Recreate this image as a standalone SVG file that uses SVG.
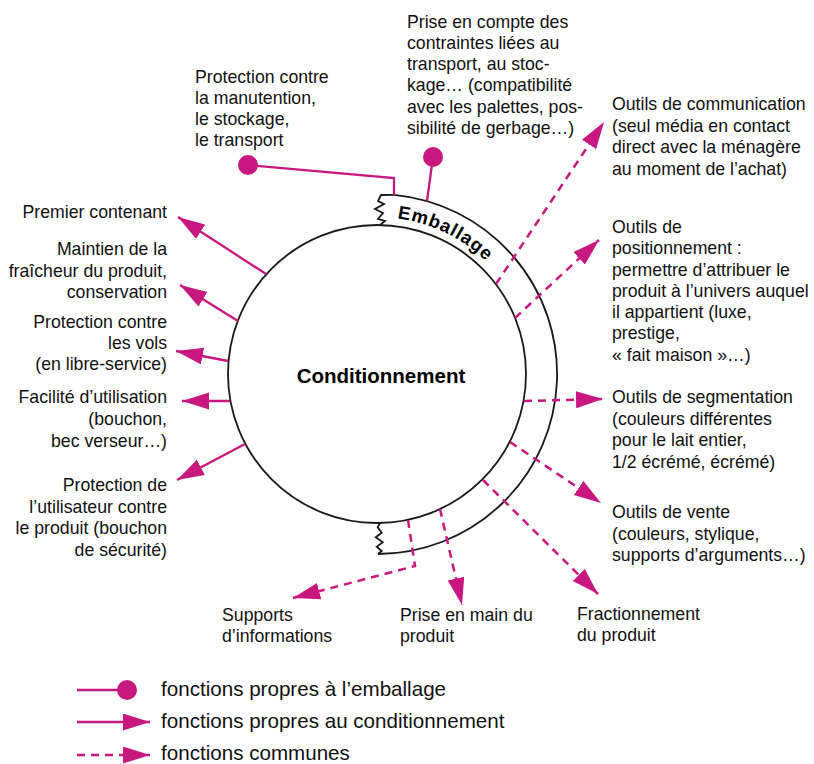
<svg xmlns="http://www.w3.org/2000/svg" width="814" height="764" viewBox="0 0 814 764">
<defs>
<style>
.t{font-family:"Liberation Sans",Arial,sans-serif;font-size:17.7px;fill:#111}
.lg{font-family:"Liberation Sans",Arial,sans-serif;font-size:20.6px;fill:#111}
.b{font-family:"Liberation Sans",Arial,sans-serif;font-weight:bold;fill:#000}
.k{fill:none;stroke:#1a1a1a;stroke-width:1.8}
.s{fill:none;stroke:#c8177e;stroke-width:2.3}
.d{fill:none;stroke:#c8177e;stroke-width:2.5;stroke-dasharray:8 6}
.pin{fill:#c8177e}
</style>
<marker id="ah" markerUnits="userSpaceOnUse" markerWidth="29" markerHeight="18" viewBox="0 0 29 18" refX="27" refY="8.5" orient="auto">
<path d="M0,0 L27,8.5 L0,17 Z" fill="#c8177e"/>
</marker>
<path id="arcText" d="M393.4,217.9 A157,157 0 0,1 534,374"/>
</defs>
<rect width="814" height="764" fill="#fff"/>

<g id="conditionnement">
<circle class="k" cx="377" cy="374" r="149"/>
<text class="b" x="381" y="383" font-size="20.5" text-anchor="middle">Conditionnement</text>
</g>

<g id="emballage">
<path class="k" d="M394,194.8 A180,180 0 0,1 378,554"/>
<path class="k" stroke-width="1.5" d="M394,194.8 L381,195 L378,201 L384,204 L375,209 L383,213 L378,219 L385,221 L380,225"/>
<path class="k" stroke-width="1.5" d="M380,523 L377.7,527.3 L381.7,532.7 L375.7,537.3 L382.7,542.3 L376.7,546.7 L381.7,551 L378,554"/>
<text class="b" font-size="18.5" letter-spacing="0.9"><textPath href="#arcText" startOffset="4">Emballage</textPath></text>
</g>

<g id="connectors">
<polyline class="s" points="248,165 394,178 394,195"/>
<circle class="pin" cx="248" cy="165" r="10"/>
<line class="s" x1="433" y1="157" x2="427" y2="201"/>
<circle class="pin" cx="433" cy="157" r="10"/>

<line class="s" x1="266" y1="274" x2="178" y2="217" marker-end="url(#ah)"/>
<line class="s" x1="238" y1="321" x2="180" y2="285" marker-end="url(#ah)"/>
<line class="s" x1="228" y1="361" x2="176" y2="351" marker-end="url(#ah)"/>
<line class="s" x1="230" y1="401" x2="182" y2="401" marker-end="url(#ah)"/>
<line class="s" x1="245" y1="444" x2="177" y2="480" marker-end="url(#ah)"/>

<line class="d" x1="496" y1="284" x2="604" y2="122" marker-end="url(#ah)"/>
<line class="d" x1="515" y1="318" x2="599" y2="240" marker-end="url(#ah)"/>
<line class="d" x1="524" y1="401" x2="603" y2="399" marker-end="url(#ah)"/>
<line class="d" x1="510" y1="442" x2="601" y2="503" marker-end="url(#ah)"/>
<line class="d" x1="483" y1="480" x2="598" y2="594" marker-end="url(#ah)"/>
<line class="d" x1="440" y1="509" x2="462" y2="605" marker-end="url(#ah)"/>
<polyline class="d" points="408,520 415,566 293,598" marker-end="url(#ah)"/>
</g>

<g id="label-manutention">
<text class="t" x="195" y="83">Protection contre</text>
<text class="t" x="195" y="104">la manutention,</text>
<text class="t" x="195" y="125">le stockage,</text>
<text class="t" x="195" y="146">le transport</text>
</g>
<g id="label-contraintes">
<text class="t" x="407" y="27.5">Prise en compte des</text>
<text class="t" x="407" y="48.8">contraintes liées au</text>
<text class="t" x="407" y="70.1">transport, au stoc-</text>
<text class="t" x="407" y="91.4">kage… (compatibilité</text>
<text class="t" x="407" y="112.7">avec les palettes, pos-</text>
<text class="t" x="407" y="134">sibilité de gerbage…)</text>
</g>

<g id="label-premier" text-anchor="end">
<text class="t" x="167" y="218">Premier contenant</text>
</g>
<g id="label-fraicheur" text-anchor="end">
<text class="t" x="167" y="255">Maintien de la</text>
<text class="t" x="167" y="276.5">fraîcheur du produit,</text>
<text class="t" x="167" y="298">conservation</text>
</g>
<g id="label-vols" text-anchor="end">
<text class="t" x="167" y="328">Protection contre</text>
<text class="t" x="167" y="349">les vols</text>
<text class="t" x="167" y="370">(en libre-service)</text>
</g>
<g id="label-facilite" text-anchor="end">
<text class="t" x="167" y="403">Facilité d’utilisation</text>
<text class="t" x="167" y="425">(bouchon,</text>
<text class="t" x="167" y="447">bec verseur…)</text>
</g>
<g id="label-utilisateur" text-anchor="end">
<text class="t" x="167" y="491">Protection de</text>
<text class="t" x="167" y="512.5">l’utilisateur contre</text>
<text class="t" x="167" y="534">le produit (bouchon</text>
<text class="t" x="167" y="555.5">de sécurité)</text>
</g>

<g id="label-communication">
<text class="t" x="612" y="110">Outils de communication</text>
<text class="t" x="612" y="131.5">(seul média en contact</text>
<text class="t" x="612" y="153">direct avec la ménagère</text>
<text class="t" x="612" y="174.5">au moment de l’achat)</text>
</g>
<g id="label-positionnement">
<text class="t" x="612" y="233">Outils de</text>
<text class="t" x="612" y="254">positionnement :</text>
<text class="t" x="612" y="275.5">permettre d’attribuer le</text>
<text class="t" x="612" y="297">produit à l’univers auquel</text>
<text class="t" x="612" y="318">il appartient (luxe,</text>
<text class="t" x="612" y="339">prestige,</text>
<text class="t" x="612" y="360.5">« fait maison »…)</text>
</g>
<g id="label-segmentation">
<text class="t" x="612" y="403">Outils de segmentation</text>
<text class="t" x="612" y="424.5">(couleurs différentes</text>
<text class="t" x="612" y="446">pour le lait entier,</text>
<text class="t" x="612" y="467.5">1/2 écrémé, écrémé)</text>
</g>
<g id="label-vente">
<text class="t" x="612" y="518">Outils de vente</text>
<text class="t" x="612" y="539.5">(couleurs, stylique,</text>
<text class="t" x="612" y="561">supports d’arguments…)</text>
</g>
<g id="label-supports">
<text class="t" x="222" y="621">Supports</text>
<text class="t" x="222" y="642">d’informations</text>
</g>
<g id="label-prise">
<text class="t" x="400" y="621">Prise en main du</text>
<text class="t" x="400" y="642">produit</text>
</g>
<g id="label-fractionnement">
<text class="t" x="577" y="620">Fractionnement</text>
<text class="t" x="577" y="641">du produit</text>
</g>

<g id="legend">
<line class="s" x1="77" y1="690" x2="125" y2="690"/>
<circle class="pin" cx="127" cy="690" r="10"/>
<text class="lg" x="161" y="696">fonctions propres à l’emballage</text>
<line class="s" x1="77" y1="722" x2="150" y2="722" marker-end="url(#ah)"/>
<text class="lg" x="161" y="728">fonctions propres au conditionnement</text>
<line class="d" x1="77" y1="755" x2="150" y2="755" marker-end="url(#ah)"/>
<text class="lg" x="161" y="760">fonctions communes</text>
</g>
</svg>
